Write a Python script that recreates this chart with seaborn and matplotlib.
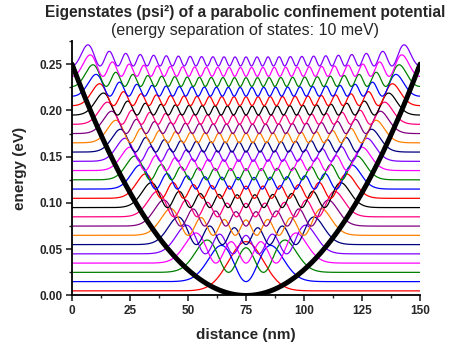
import numpy as np
import pandas as pd
import matplotlib
matplotlib.use("Agg")
import matplotlib.pyplot as plt
import seaborn as sns
from matplotlib.ticker import MultipleLocator, FormatStrFormatter

# ---- data ----
state_energy_eV = [0.005, 0.015, 0.025, 0.035, 0.045, 0.055, 0.065, 0.075, 0.085, 0.095,
                   0.105, 0.115, 0.125, 0.135, 0.145, 0.155, 0.165, 0.175, 0.185, 0.195,
                   0.2052, 0.2154, 0.2259, 0.2368, 0.2480]
state_colors = ["#ff0000", "#0000ff", "#008000", "#ff00ff", "#8000ff",
                "#000080", "#ff8000", "#800080", "#ff0080", "#000000"]
well_center_nm = 75.0
well_edge_nm = 150.0
well_edge_energy_eV = 0.25
level_spacing_eV = 0.010
psi2_scale = 1.0
x_ticks = [0, 25, 50, 75, 100, 125, 150]
y_ticks = [0.00, 0.05, 0.10, 0.15, 0.20, 0.25]

# ---- eigenstates of the parabolic well (hard walls at 0 and 150 nm) ----
N = 1499
h = well_edge_nm / (N + 1)
xi = np.arange(1, N + 1) * h
half = well_edge_nm - well_center_nm
k = well_edge_energy_eV / half**2
c = level_spacing_eV**2 / (4 * k)
V = k * (xi - well_center_nm)**2
H = (np.diag(V + 2 * c / h**2)
     + np.diag(-c / h**2 * np.ones(N - 1), 1)
     + np.diag(-c / h**2 * np.ones(N - 1), -1))
_, vecs = np.linalg.eigh(H)
x = np.concatenate([[0.0], xi, [well_edge_nm]])

frames = []
for n, E in enumerate(state_energy_eV):
    dens = np.concatenate([[0.0], vecs[:, n]**2 / h, [0.0]])
    frames.append(pd.DataFrame({"distance": x,
                                "energy": E + psi2_scale * dens,
                                "state": n}))
df = pd.concat(frames, ignore_index=True)
potential = pd.DataFrame({"distance": x,
                          "energy": k * (x - well_center_nm)**2})

sns.set_style("ticks")
plt.rcParams["font.family"] = ["Liberation Sans", "DejaVu Sans"]

fig = plt.figure(figsize=(4.63, 3.49), dpi=100)
ax = fig.add_axes([0.1555, 0.1533, 0.7517, 0.7292])

palette = [state_colors[n % len(state_colors)] for n in range(len(state_energy_eV))]
sns.lineplot(data=df, x="distance", y="energy", hue="state", palette=palette,
             estimator=None, sort=False, legend=False, linewidth=0.9, ax=ax)
sns.lineplot(data=potential, x="distance", y="energy", color="black",
             estimator=None, sort=False, linewidth=3.6, ax=ax)

ax.set_xlim(0, 150)
ax.set_ylim(0, 0.275)
ax.set_xticks(x_ticks)
ax.set_yticks(y_ticks)
ax.xaxis.set_minor_locator(MultipleLocator(12.5))
ax.yaxis.set_minor_locator(MultipleLocator(0.025))
ax.yaxis.set_major_formatter(FormatStrFormatter("%.2f"))
ax.tick_params(which="major", direction="out", length=4.5, width=1.2, labelsize=8.5, pad=2)
ax.tick_params(which="minor", direction="out", length=2.5, width=1.0)
for lbl in ax.get_xticklabels() + ax.get_yticklabels():
    lbl.set_fontweight("bold")
for s in ["top", "right"]:
    ax.spines[s].set_visible(False)
for s in ["left", "bottom"]:
    ax.spines[s].set_linewidth(1.3)
    ax.spines[s].set_color("black")

ax.set_xlabel("distance (nm)", fontsize=11, fontweight="bold", labelpad=8)
ax.set_ylabel("energy (eV)", fontsize=11, fontweight="bold", labelpad=9)

fig.text(0.529, 0.965, "Eigenstates (psi\u00b2) of a parabolic confinement potential",
         ha="center", va="center", fontsize=11.2, fontweight="bold")
fig.text(0.529, 0.914, "(energy separation of states: 10 meV)",
         ha="center", va="center", fontsize=11.5)

fig.savefig("out.png", dpi=100)
